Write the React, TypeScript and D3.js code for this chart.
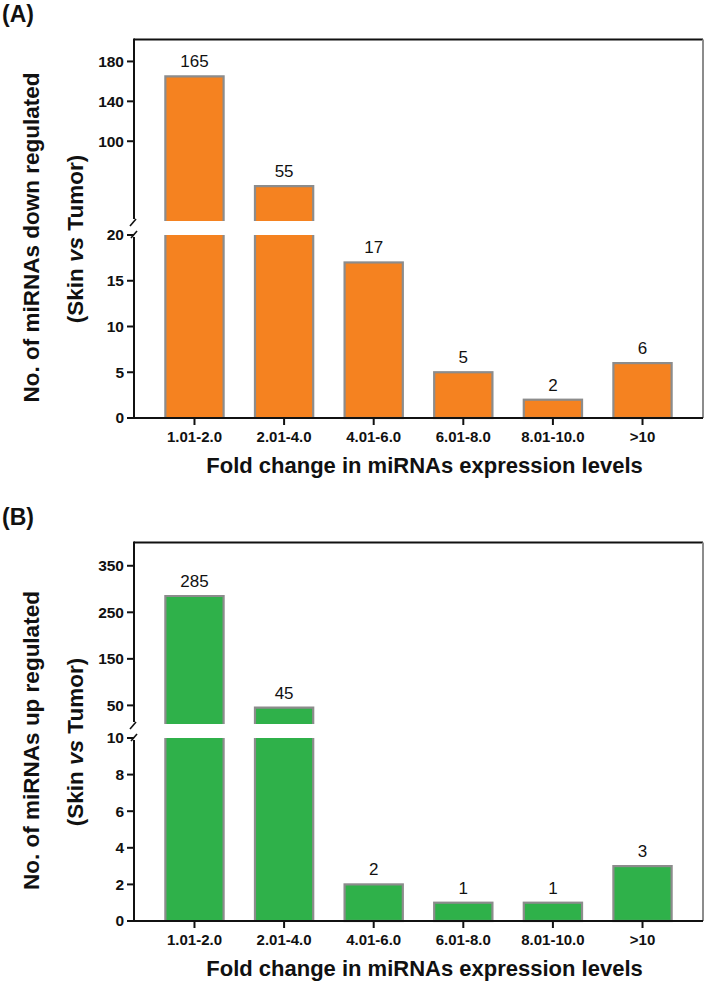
import React from "react";
import * as d3 from "d3";

const categories = ["1.01-2.0", "2.01-4.0", "4.01-6.0", "6.01-8.0", "8.01-10.0", ">10"];
const downValues = [165, 55, 17, 5, 2, 6];
const upValues = [285, 45, 2, 1, 1, 3];
const downLowerTicks = [0, 5, 10, 15, 20];
const downUpperTicks = [100, 140, 180];
const upLowerTicks = [0, 2, 4, 6, 8, 10];
const upUpperTicks = [50, 150, 250, 350];

const FONT = "'Liberation Sans', Arial, sans-serif";
const W = 705;
const H = 986;
const X0 = 134;
const X1 = 703;
const STROKE = "#8c8c8c";

type PanelProps = {
  oy: number;
  label: string;
  values: number[];
  lowerDomain: [number, number];
  upperDomain: [number, number];
  lowerTicks: number[];
  upperTicks: number[];
  color: string;
  titleWord: string;
};

function Panel({ oy, label, values, lowerDomain, upperDomain, lowerTicks, upperTicks, color, titleWord }: PanelProps) {
  const frameTop = oy + 39.5;
  const baseY = oy + 418;
  const lowerTop = oy + 235;
  const upperBottom = oy + 221;
  const yLow = d3.scaleLinear().domain(lowerDomain).range([baseY, lowerTop]);
  const yUp = d3.scaleLinear().domain(upperDomain).range([upperBottom, frameTop]);
  const x = d3.scaleBand<string>().domain(categories).range([X0, X1]).paddingInner(0.35).paddingOuter(0.35);
  const bw = x.bandwidth();
  const brk = lowerDomain[1];

  return (
    <g>
      <text x={2} y={oy + 22} fontFamily={FONT} fontWeight="bold" fontSize={23} fill="#111">{label}</text>
      {values.map((v, i) => {
        const xl = x(categories[i])!;
        const xr = xl + bw;
        if (v <= brk) {
          const yt = yLow(v);
          return (
            <g key={i}>
              <rect x={xl} y={yt} width={bw} height={baseY - yt} fill={color} stroke={STROKE} strokeWidth={2.2} />
            </g>
          );
        }
        const yt = yUp(v);
        return (
          <g key={i}>
            <rect x={xl} y={yt} width={bw} height={upperBottom - yt} fill={color} />
            <path d={`M${xl},${upperBottom}V${yt}H${xr}V${upperBottom}`} fill="none" stroke={STROKE} strokeWidth={2.2} />
            <rect x={xl} y={lowerTop} width={bw} height={baseY - lowerTop} fill={color} />
            <path d={`M${xl},${lowerTop}V${baseY}H${xr}V${lowerTop}`} fill="none" stroke={STROKE} strokeWidth={2.2} />
          </g>
        );
      })}
      {values.map((v, i) => {
        const cx = x(categories[i])! + bw / 2;
        const yt = v <= brk ? yLow(v) : yUp(v);
        return (
          <text key={i} x={cx} y={yt - 9} textAnchor="middle" fontFamily={FONT} fontSize={17} fill="#111">{v}</text>
        );
      })}
      <line x1={X0} x2={X1} y1={frameTop} y2={frameTop} stroke="#111" strokeWidth={2} />
      <line x1={X1} x2={X1} y1={frameTop} y2={baseY} stroke={STROKE} strokeWidth={2} />
      <line x1={X0} x2={X0} y1={frameTop - 1} y2={upperBottom - 2} stroke="#111" strokeWidth={2} />
      <line x1={X0} x2={X0} y1={lowerTop + 2} y2={baseY} stroke="#111" strokeWidth={2} />
      <line x1={X0 - 4} x2={X0 + 2} y1={upperBottom + 5} y2={upperBottom - 2} stroke="#111" strokeWidth={1.6} />
      <line x1={X0 - 3} x2={X0 + 3} y1={lowerTop + 3} y2={lowerTop - 4} stroke="#111" strokeWidth={1.6} />
      {upperTicks.map((t) => (
        <g key={"u" + t}>
          <line x1={X0 - 7} x2={X0} y1={yUp(t)} y2={yUp(t)} stroke="#111" strokeWidth={2} />
          <text x={X0 - 10} y={yUp(t)} dy="0.35em" textAnchor="end" fontFamily={FONT} fontWeight="bold" fontSize={15.5} fill="#111">{t}</text>
        </g>
      ))}
      {lowerTicks.map((t) => (
        <g key={"l" + t}>
          <line x1={X0 - 7} x2={X0} y1={yLow(t)} y2={yLow(t)} stroke="#111" strokeWidth={2} />
          <text x={X0 - 10} y={yLow(t)} dy="0.35em" textAnchor="end" fontFamily={FONT} fontWeight="bold" fontSize={15.5} fill="#111">{t}</text>
        </g>
      ))}
      <line x1={X0 - 1} x2={X1} y1={baseY} y2={baseY} stroke="#111" strokeWidth={2} />
      {categories.map((c) => {
        const cx = x(c)! + bw / 2;
        return (
          <g key={c}>
            <line x1={cx} x2={cx} y1={baseY} y2={baseY + 7} stroke="#111" strokeWidth={2} />
            <text x={cx} y={oy + 442} textAnchor="middle" fontFamily={FONT} fontWeight="bold" fontSize={15} fill="#111">{c}</text>
          </g>
        );
      })}
      <text x={(X0 + X1) / 2 + 6} y={oy + 473} textAnchor="middle" fontFamily={FONT} fontWeight="bold" fontSize={22} fill="#111">Fold change in miRNAs expression levels</text>
      <text transform={`translate(39,${oy + 237.5}) rotate(-90)`} textAnchor="middle" fontFamily={FONT} fontWeight="bold" fontSize={22.5} fill="#111">{`No. of miRNAs ${titleWord} regulated`}</text>
      <text transform={`translate(83,${oy + 239}) rotate(-90)`} textAnchor="middle" fontFamily={FONT} fontWeight="bold" fontSize={22.5} fill="#111">
        (Skin <tspan fontStyle="italic">vs</tspan> Tumor)
      </text>
    </g>
  );
}

export default function App() {
  return (
    <svg width={W} height={H} style={{ position: "absolute", left: 0, top: 0, background: "#fff" }}>
      <rect width={W} height={H} fill="#fff" />
      <Panel oy={0} label="(A)" values={downValues} lowerDomain={[0, 20]} upperDomain={[20, 202]}
        lowerTicks={downLowerTicks} upperTicks={downUpperTicks} color="#f58220" titleWord="down" />
      <Panel oy={503} label="(B)" values={upValues} lowerDomain={[0, 10]} upperDomain={[10, 400]}
        lowerTicks={upLowerTicks} upperTicks={upUpperTicks} color="#2fb14a" titleWord="up" />
    </svg>
  );
}
